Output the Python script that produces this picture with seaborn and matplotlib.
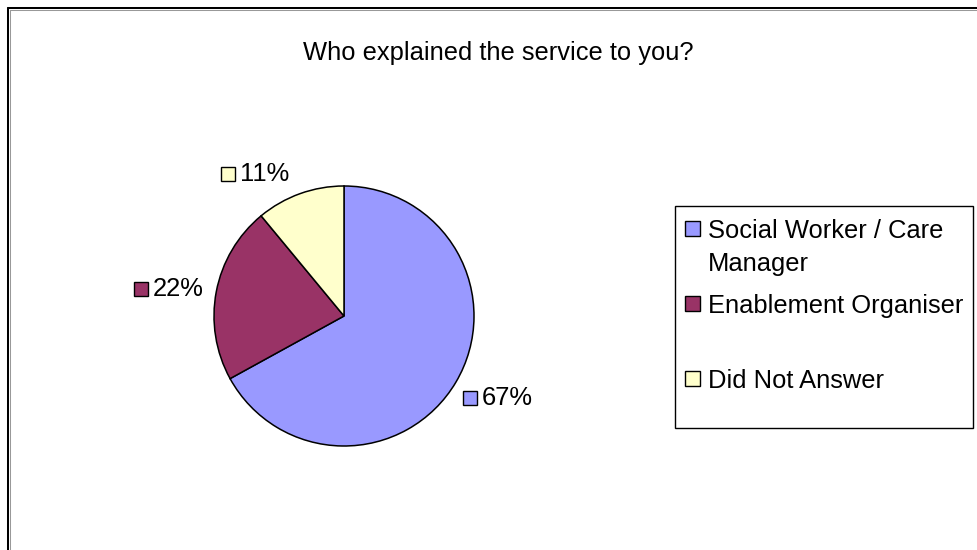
import matplotlib
matplotlib.use("Agg")
import matplotlib.pyplot as plt
import seaborn as sns
import numpy as np
from matplotlib.patches import Rectangle
from matplotlib.lines import Line2D
from matplotlib.offsetbox import DrawingArea, TextArea, HPacker, AnnotationBbox

# Survey answers
title = "Who explained the service to you?"
categories = ["Social Worker / Care\nManager", "Enablement Organiser", "Did Not Answer"]
shares = [67, 22, 11]
colors = ["#9999FF", "#993366", "#FFFFCC"]

sns.set_theme(style="white")
plt.rcParams["font.family"] = ["Liberation Sans", "DejaVu Sans"]

W, H, DPI = 978, 550, 100
FS = 18.4  # ~26 px text
fig = plt.figure(figsize=(W / DPI, H / DPI), dpi=DPI)
fig.patch.set_facecolor("white")


def fx(px):
    return px / W


def fy(py):
    return 1 - py / H


# Chart-area border (only the left and top edges fall inside the image)
fig.add_artist(Line2D([fx(8), fx(8)], [fy(8), fy(H + 10)], color="black", lw=1.45))
fig.add_artist(Line2D([fx(8), fx(W + 10)], [fy(8), fy(8)], color="black", lw=1.45))
fig.add_artist(Line2D([fx(9.5), fx(9.5)], [fy(9.5), fy(H + 10)], color="#999999", lw=0.75))
fig.add_artist(Line2D([fx(9.5), fx(W + 10)], [fy(9.5), fy(9.5)], color="#999999", lw=0.75))

# Title
fig.text(fx(498), fy(53), title, ha="center", va="center", fontsize=FS, color="black")

# Pie: centre (344, 316) px, radius 130 px; axes spans +-1.5 radii
R, CX, CY = 130, 344, 316
half = 1.5 * R
ax = fig.add_axes([fx(CX - half), fy(CY + half), 2 * half / W, 2 * half / H])
wedges, _ = ax.pie(
    shares,
    colors=colors,
    startangle=90,
    counterclock=False,
    radius=1.0,
    wedgeprops=dict(edgecolor="black", linewidth=1.1),
)
ax.set_xlim(-1.5, 1.5)
ax.set_ylim(-1.5, 1.5)
ax.set_aspect("equal")
ax.axis("off")

# Percentage labels with a colour key square, placed just outside each wedge
sq = 14 * 72 / DPI
for w, v, c in zip(wedges, shares, colors):
    mid = np.deg2rad((w.theta1 + w.theta2) / 2)
    cx, cy = np.cos(mid), np.sin(mid)
    r = 1.1
    bx = 0.0 if cx > 0 else 1.0
    if cy > 0.3:
        by = 0.0
        r = 1.06
        cx -= 0.06
    elif cy < -0.3:
        by = 1.0
        r = 1.06
    else:
        by = 0.5
    da = DrawingArea(sq, sq, 0, 0)
    da.add_artist(Rectangle((0, 0), sq, sq, facecolor=c, edgecolor="black", lw=1.0))
    ta = TextArea(f"{v}%", textprops=dict(fontsize=FS, color="black"))
    pack = HPacker(children=[da, ta], align="center", pad=0, sep=3.5)
    ab = AnnotationBbox(pack, (r * cx, r * cy), xycoords="data",
                        box_alignment=(bx, by), frameon=False, pad=0)
    ax.add_artist(ab)

# Legend box
fig.add_artist(Rectangle((fx(675), fy(428)), (973 - 675) / W, (428 - 206) / H,
                         transform=fig.transFigure, facecolor="white",
                         edgecolor="black", lw=1.0))
for i, (lab, c) in enumerate(zip(categories, colors)):
    yc = 228.5 + 75 * i
    fig.add_artist(Rectangle((fx(685), fy(yc + 7.5)), 15 / W, 15 / H,
                             transform=fig.transFigure, facecolor=c,
                             edgecolor="black", lw=1.0))
    for j, line in enumerate(lab.split("\n")):
        fig.text(fx(708), fy(yc + 9 + 33 * j), line, ha="left", va="baseline",
                 fontsize=FS, color="black")

fig.savefig("out.png", dpi=DPI)
